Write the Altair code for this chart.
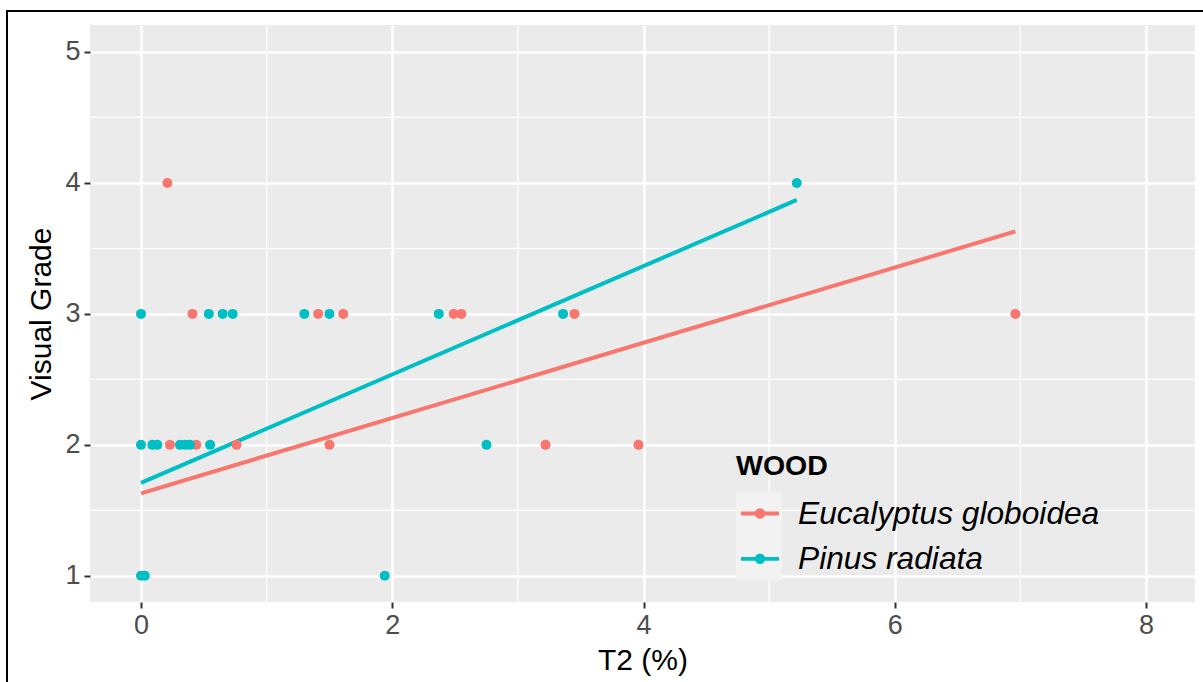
import altair as alt
import pandas as pd

# ---- data ----
species = ["Eucalyptus globoidea", "Pinus radiata"]
colors = ["#F8766D", "#00BFC4"]

euc_x = [0.21, 0.41, 1.41, 1.61, 2.49, 2.55, 3.45, 6.96, 0.23, 0.44, 0.76, 1.50, 3.22, 3.96]
euc_y = [4, 3, 3, 3, 3, 3, 3, 3, 2, 2, 2, 2, 2, 2]
pin_x = [5.22, 0.0, 0.54, 0.65, 0.73, 1.30, 1.50, 2.37, 3.36,
         0.0, 0.09, 0.13, 0.31, 0.35, 0.39, 0.55, 2.75, 0.0, 0.03, 1.94]
pin_y = [4, 3, 3, 3, 3, 3, 3, 3, 3, 2, 2, 2, 2, 2, 2, 2, 2, 1, 1, 1]

# fitted lines (end points)
fit_euc_x = [0.0, 6.96]
fit_euc_y = [1.63, 3.63]
fit_pin_x = [0.0, 5.22]
fit_pin_y = [1.71, 3.87]

x_ticks = [0, 2, 4, 6, 8]
x_minor = [1, 3, 5, 7]
y_ticks = [1, 2, 3, 4, 5]
y_minor = [1.5, 2.5, 3.5, 4.5]

pts = pd.DataFrame({
    "T2": euc_x + pin_x,
    "grade": euc_y + pin_y,
    "WOOD": [species[0]] * len(euc_x) + [species[1]] * len(pin_x),
})
fits = pd.DataFrame({
    "T2": fit_euc_x + fit_pin_x,
    "grade": fit_euc_y + fit_pin_y,
    "WOOD": [species[0]] * 2 + [species[1]] * 2,
})

FONT = "Liberation Sans"
xs = alt.Scale(domain=[-0.406, 8.39], nice=False, zero=False)
ys = alt.Scale(domain=[0.80, 5.206], nice=False, zero=False)
cs = alt.Scale(domain=species, range=colors)

x_axis = alt.Axis(values=x_ticks, title="T2 (%)", grid=True, gridColor="white",
                  gridWidth=2.6, domain=False, tickColor="#333333", tickWidth=2,
                  tickSize=6, labelFont=FONT, labelFontSize=27, labelColor="#4D4D4D",
                  labelPadding=4, labelFlush=False, format="d", titleFont=FONT,
                  titleFontSize=30, titleFontWeight="normal", titleColor="black",
                  titlePadding=7)
y_axis = alt.Axis(values=y_ticks, title="Visual Grade", grid=True, gridColor="white",
                  gridWidth=2.6, domain=False, tickColor="#333333", tickWidth=2,
                  tickSize=6, labelFont=FONT, labelFontSize=27, labelColor="#4D4D4D",
                  labelPadding=4, labelFlush=False, format="d", titleFont=FONT,
                  titleFontSize=30, titleFontWeight="normal", titleColor="black",
                  titlePadding=8)

sym = ("M-1,0L1,0"
       "M0.084,0A0.084,0.084,0,1,1,-0.084,0A0.084,0.084,0,1,1,0.084,0"
       "M0.174,0A0.174,0.174,0,1,1,-0.174,0A0.174,0.174,0,1,1,0.174,0")

legend = alt.Legend(orient="none", legendX=646, legendY=427, title="WOOD",
                    titleFont=FONT, titleFontSize=28.5, titleFontWeight="bold",
                    titleColor="black", titlePadding=12, labelFont=FONT,
                    labelFontSize=31.7, labelFontStyle="italic", labelColor="black",
                    labelLimit=600, symbolType=sym, symbolSize=1444,
                    symbolStrokeWidth=3.8, symbolOffset=3, labelOffset=17,
                    rowPadding=7.3, padding=0)

minor_x = alt.Chart(pd.DataFrame({"v": x_minor})).mark_rule(
    color="white", strokeWidth=1.3).encode(x=alt.X("v:Q", scale=xs, axis=x_axis))
minor_y = alt.Chart(pd.DataFrame({"v": y_minor})).mark_rule(
    color="white", strokeWidth=1.3).encode(y=alt.Y("v:Q", scale=ys, axis=y_axis))

keybox = alt.Chart(alt.Data(values=[{"k": 1}])).mark_rect(color="#F2F2F2").encode(
    x=alt.value(646), x2=alt.value(692), y=alt.value(467), y2=alt.value(555))

lines = alt.Chart(fits).mark_line(strokeWidth=4, opacity=1).encode(
    x=alt.X("T2:Q", scale=xs, axis=x_axis),
    y=alt.Y("grade:Q", scale=ys, axis=y_axis),
    color=alt.Color("WOOD:N", scale=cs, legend=legend),
    detail="WOOD:N",
)
points = alt.Chart(pts).mark_point(filled=True, size=100, opacity=1, shape="circle").encode(
    x=alt.X("T2:Q", scale=xs, axis=x_axis),
    y=alt.Y("grade:Q", scale=ys, axis=y_axis),
    color=alt.Color("WOOD:N", scale=cs, legend=legend),
)

frame_v = alt.Chart(alt.Data(values=[{"k": 1}])).mark_rule(color="black", strokeWidth=2).encode(
    x=alt.value(-83), y=alt.value(-14), y2=alt.value(700))
frame_h = alt.Chart(alt.Data(values=[{"k": 1}])).mark_rule(color="black", strokeWidth=2).encode(
    y=alt.value(-14), x=alt.value(-84), x2=alt.value(1200))

chart = alt.layer(minor_x, minor_y, keybox, lines, points, frame_v, frame_h).properties(
    width=1105, height=577,
    autosize=alt.AutoSizeParams(type="none"),
    padding={"left": 90, "top": 25, "right": 8, "bottom": 80},
    background="white",
).configure_view(fill="#EBEBEB", strokeWidth=0)

chart.save("out.html", embed_options={"renderer": "svg", "actions": False})
